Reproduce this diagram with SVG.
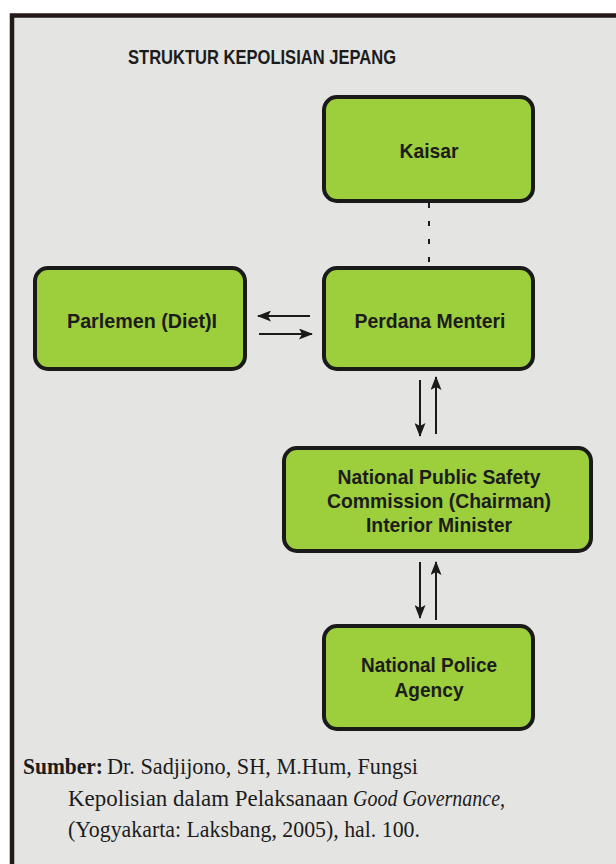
<svg xmlns="http://www.w3.org/2000/svg" width="616" height="864" viewBox="0 0 616 864">
  <style>
    .box { fill: #9dce3b; stroke: #1a1a1a; stroke-width: 4; }
    .lbl { font-family: "Liberation Sans", Arial, sans-serif; font-weight: bold; font-size: 21px; fill: #1c1c1c; text-anchor: middle; }
    .src { font-family: "Liberation Serif", "Times New Roman", serif; font-size: 24px; fill: #1c1c1c; }
    .ln { stroke: #1a1a1a; stroke-width: 2; fill: none; }
  </style>
  <defs>
    <marker id="ah" viewBox="0 0 14 11" refX="13" refY="5.5" markerWidth="14" markerHeight="11" markerUnits="userSpaceOnUse" orient="auto">
      <path d="M0,0 L14,5.5 L0,11 L3,5.5 Z" fill="#1a1a1a"/>
    </marker>
  </defs>
  <rect x="0" y="0" width="616" height="864" fill="#ffffff"/>
  <rect x="12" y="15.5" width="610" height="860" fill="#e4e4e2" stroke="#231a18" stroke-width="4.5"/>

  <text x="262" y="64" font-family="Liberation Sans, Arial, sans-serif" font-weight="bold" font-size="21" fill="#1c1c1c" text-anchor="middle" textLength="268" lengthAdjust="spacingAndGlyphs">STRUKTUR KEPOLISIAN JEPANG</text>

  <g id="connectors">
    <line class="ln" x1="429" y1="203" x2="429" y2="266" stroke-dasharray="5 13"/>
    <line class="ln" x1="310" y1="316" x2="258" y2="316" marker-end="url(#ah)"/>
    <line class="ln" x1="259" y1="334" x2="312" y2="334" marker-end="url(#ah)"/>
    <line class="ln" x1="420" y1="380" x2="420" y2="436" marker-end="url(#ah)"/>
    <line class="ln" x1="436" y1="434" x2="436" y2="377" marker-end="url(#ah)"/>
    <line class="ln" x1="420" y1="562" x2="420" y2="618" marker-end="url(#ah)"/>
    <line class="ln" x1="436" y1="620" x2="436" y2="562" marker-end="url(#ah)"/>
  </g>

  <g id="kaisar">
    <rect class="box" x="324" y="97" width="209" height="104" rx="13"/>
    <text class="lbl" x="429" y="158" textLength="59" lengthAdjust="spacingAndGlyphs">Kaisar</text>
  </g>

  <g id="parlemen">
    <rect class="box" x="35" y="268" width="210" height="101" rx="13"/>
    <text class="lbl" x="142" y="328" textLength="150" lengthAdjust="spacingAndGlyphs">Parlemen (Diet)I</text>
  </g>

  <g id="perdana">
    <rect class="box" x="324" y="268" width="209" height="101" rx="13"/>
    <text class="lbl" x="430" y="328" textLength="151" lengthAdjust="spacingAndGlyphs">Perdana Menteri</text>
  </g>

  <g id="npsc">
    <rect class="box" x="284" y="448" width="307" height="103" rx="13"/>
    <text class="lbl" x="439" y="484" textLength="203" lengthAdjust="spacingAndGlyphs">National Public Safety</text>
    <text class="lbl" x="439" y="508" textLength="224" lengthAdjust="spacingAndGlyphs">Commission (Chairman)</text>
    <text class="lbl" x="439" y="532" textLength="146" lengthAdjust="spacingAndGlyphs">Interior Minister</text>
  </g>

  <g id="npa">
    <rect class="box" x="324" y="626" width="209" height="103" rx="13"/>
    <text class="lbl" x="429" y="672" textLength="136" lengthAdjust="spacingAndGlyphs">National Police</text>
    <text class="lbl" x="429" y="697" textLength="69" lengthAdjust="spacingAndGlyphs">Agency</text>
  </g>

  <g id="source">
    <text class="src" x="23" y="774" font-weight="bold" textLength="80" lengthAdjust="spacingAndGlyphs">Sumber:</text>
    <text class="src" x="107" y="774" textLength="311" lengthAdjust="spacingAndGlyphs">Dr. Sadjijono, SH, M.Hum, Fungsi</text>
    <text class="src" x="68" y="806" textLength="280" lengthAdjust="spacingAndGlyphs">Kepolisian dalam Pelaksanaan</text>
    <text class="src" x="353" y="806" font-style="italic" textLength="152" lengthAdjust="spacingAndGlyphs">Good Governance,</text>
    <text class="src" x="68" y="837" textLength="352" lengthAdjust="spacingAndGlyphs">(Yogyakarta: Laksbang, 2005), hal. 100.</text>
  </g>
</svg>
